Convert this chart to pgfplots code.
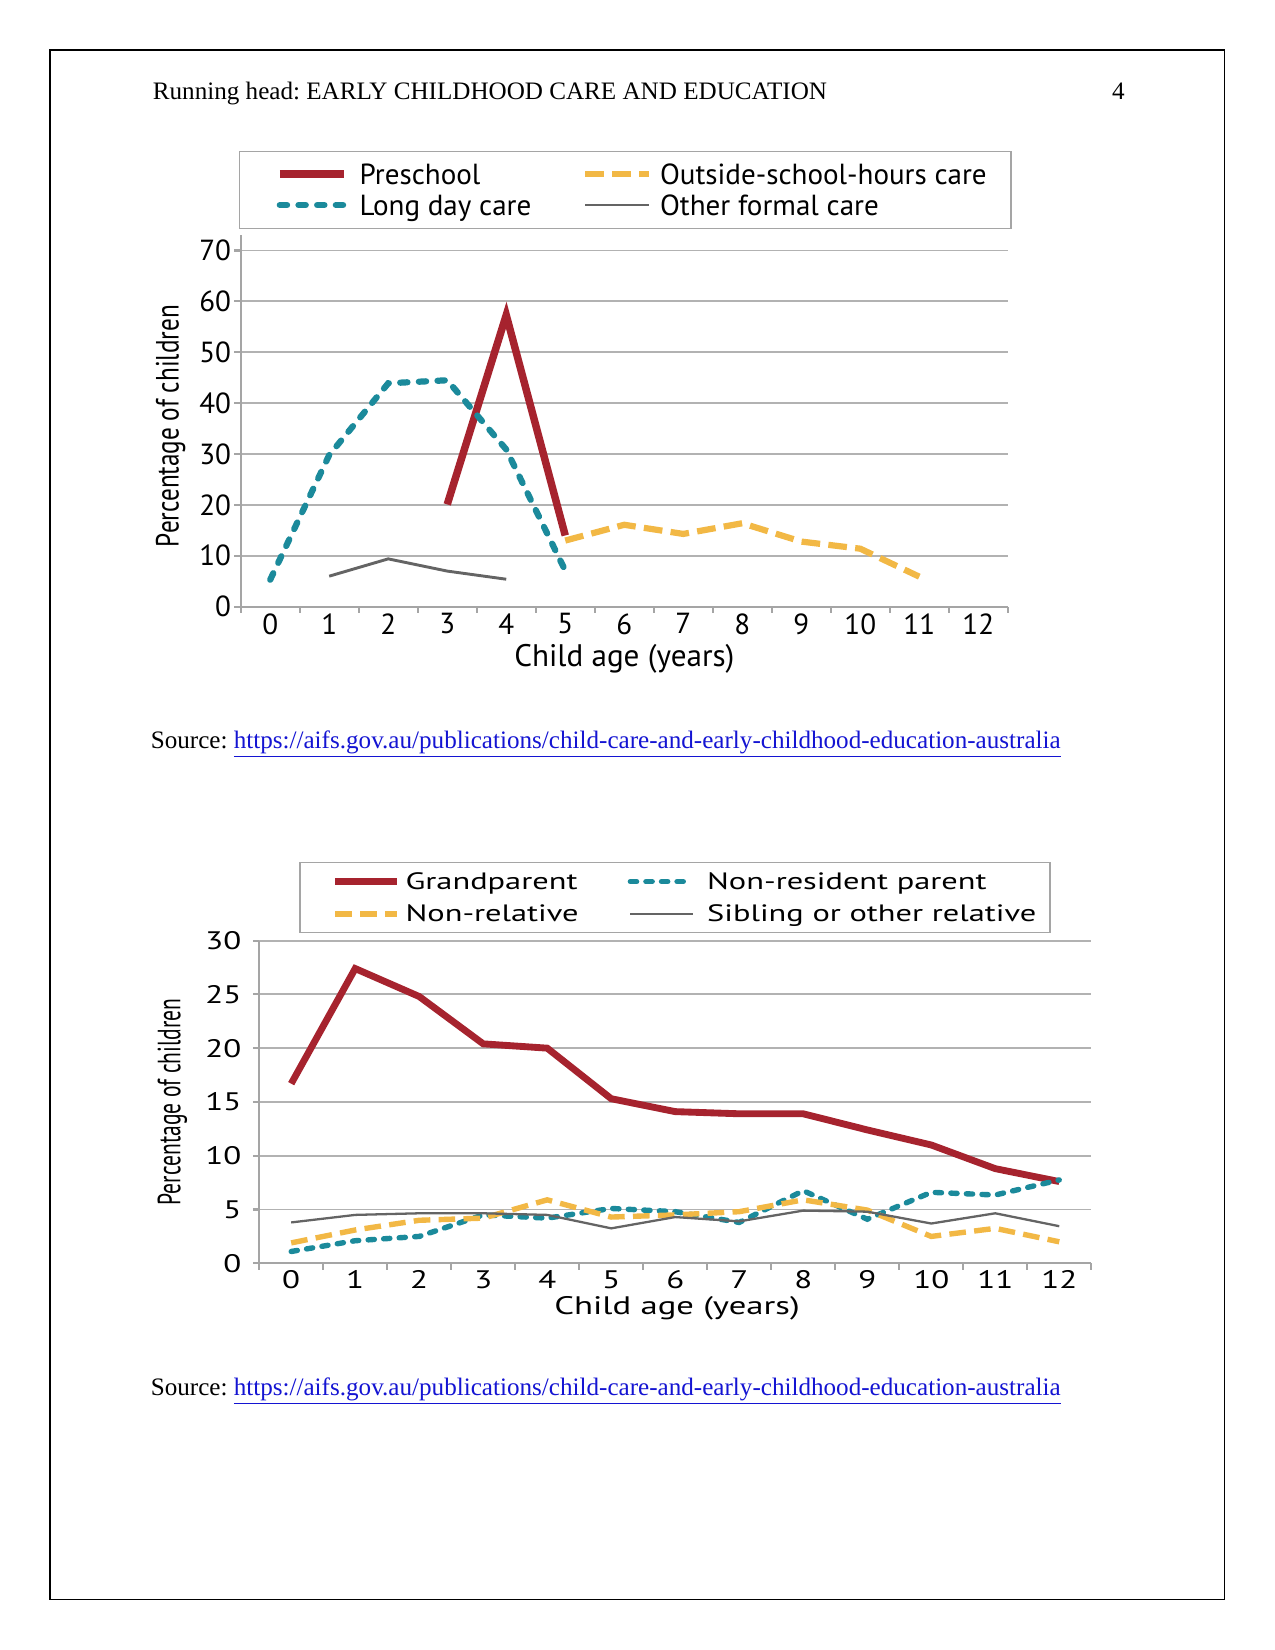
\documentclass[border=0pt]{standalone}
\usepackage{pgfplots}
\pgfplotsset{compat=1.18}
\usepackage{fontspec}
\setmainfont{Liberation Serif}
\newfontfamily\fA[FakeStretch=1.0]{PT Sans}
\newfontfamily\fAy[FakeStretch=0.784]{PT Sans}
\newfontfamily\fB[FakeStretch=1.37]{PT Sans}
\newfontfamily\fBt[FakeStretch=1.3]{PT Sans}
\newfontfamily\fBy[FakeStretch=0.67]{PT Sans}
\definecolor{cred}{RGB}{166,35,46}
\definecolor{cteal}{RGB}{27,138,155}
\definecolor{cyel}{RGB}{242,184,69}
\definecolor{cgray}{RGB}{100,100,100}
\definecolor{cgrid}{RGB}{178,178,178}
\definecolor{caxis}{RGB}{165,165,165}
\definecolor{clink}{RGB}{20,20,210}
\frenchspacing
\begin{document}
\begin{tikzpicture}[x=0.48181pt,y=-0.48181pt]
\useasboundingbox (0,0) rectangle (1275,1650);
\draw[line width=0.75pt] (50,50) rectangle (1224.3,1599.3);
\node[anchor=base west, inner sep=0pt, font=\fontsize{12.1}{14}\selectfont] at (152.5,99.5) {Running head: EARLY CHILDHOOD CARE AND EDUCATION};
\node[anchor=base east, inner sep=0pt, font=\fontsize{12.1}{14}\selectfont] at (1125,99.5) {4};
\node[anchor=base west, inner sep=0pt, font=\fontsize{12.1}{14}\selectfont] at (150.4,748) {Source: \textcolor{clink}{\underline{https://aifs.gov.au/publications/child-care-and-early-childhood-education-australia}}};
\node[anchor=base west, inner sep=0pt, font=\fontsize{12.1}{14}\selectfont] at (150.4,1395) {Source: \textcolor{clink}{\underline{https://aifs.gov.au/publications/child-care-and-early-childhood-education-australia}}};
% legend boxes
\draw[caxis, line width=0.75pt] (239.3,151.7) rectangle (1011,228.3);
\draw[caxis, line width=0.75pt] (300,862.3) rectangle (1049.9,932.7);
\coordinate (A1) at (240.7,606.7);
\coordinate (A2) at (259.2,1263.3);

% ---------- chart 1 ----------
\begin{axis}[
  at={(A1)}, anchor=south west,
  scale only axis, width=369.6pt, height=179.0pt,
  xmin=-0.5, xmax=12.5, ymin=0, ymax=73,
  axis x line*=bottom, axis y line*=left,
  axis line style={-, caxis, line width=1pt},
  xtick={-0.5,0.5,...,12.5}, xticklabels={},
  extra x ticks={0,1,...,12},
  extra x tick style={tick style={draw=none}},
  ytick={0,10,...,70},
  tick align=outside, major tick length=3pt,
  tick style={caxis, line width=1pt},
  ymajorgrids, major grid style={cgrid, line width=0.9pt},
  /pgf/number format/assume math mode=true,
  ticklabel style={font=\fA\fontsize{14}{16}\selectfont, inner sep=0pt},
  xticklabel style={yshift=0pt},
  yticklabel style={xshift=-1.5pt},
  xlabel={Child age (years)},
  xlabel style={font=\fA\fontsize{15}{17}\selectfont, at={(axis description cs:0.5001,-0.1407)}, anchor=center},
  ylabel={Percentage of children},
  ylabel style={font=\fAy\fontsize{15.5}{17}\selectfont, at={(axis description cs:-0.0914,0.4863)}, anchor=center, rotate=0},
  legend columns=2,
  legend cell align=left,
  legend style={draw=none, fill=none, inner sep=0pt, outer sep=0pt, column sep=0pt, row sep=0pt,
    at={(axis description cs:0.0461,1.19806)}, anchor=north west,
    nodes={inner sep=0pt, text height=11pt, text depth=3.94pt, font=\fA\fontsize{14}{16}\selectfont}},
  legend image code/.code={\draw[#1] (0pt,1.5pt) -- (31pt,1.5pt);},
]
\addplot[cred, line width=3.6pt] coordinates {(3,20.1)(4,57.3)(5,14.0)};
\addlegendentry{\makebox[112.8pt][l]{\hspace{5.7pt}Preschool}}
\addplot[cyel, line width=3pt, dash pattern=on 9pt off 4pt] coordinates {(5,13.0)(6,16.1)(7,14.3)(8,16.4)(9,12.8)(10,11.4)(11,5.9)};
\addlegendentry{\hspace{3.6pt}Outside-school-hours care}
\addplot[cteal, line width=3pt, line cap=round, dash pattern=on 3.5pt off 5.5pt] coordinates {(0,5.3)(1,29.8)(2,43.9)(3,44.5)(4,30.9)(5,7.1)};
\addlegendentry{\makebox[112.8pt][l]{\hspace{5.7pt}Long day care}}
\addplot[cgray, line width=1.4pt] coordinates {(1,6.0)(2,9.4)(3,7.0)(4,5.4)};
\addlegendentry{\hspace{3.6pt}Other formal care}
\end{axis}

% ---------- chart 2 ----------
\begin{axis}[
  at={(A2)}, anchor=south west,
  scale only axis, width=400.9pt, height=155.5pt,
  xmin=-0.5, xmax=12.5, ymin=0, ymax=30,
  axis x line*=bottom, axis y line*=left,
  axis line style={-, caxis, line width=1pt},
  xtick={-0.5,0.5,...,12.5}, xticklabels={},
  extra x ticks={0,1,...,12},
  extra x tick style={tick style={draw=none}},
  ytick={0,5,...,30},
  tick align=outside, major tick length=3pt,
  tick style={caxis, line width=1pt},
  ymajorgrids, major grid style={cgrid, line width=0.9pt},
  /pgf/number format/assume math mode=true,
  ticklabel style={font=\fBt\fontsize{12.2}{14}\selectfont, inner sep=0pt},
  xticklabel style={yshift=-0.4pt},
  yticklabel style={xshift=-5.4pt},
  xlabel={Child age (years)},
  xlabel style={font=\fB\fontsize{12.2}{14}\selectfont, at={(axis description cs:0.5022,-0.1385)}, anchor=center},
  ylabel={Percentage of children},
  ylabel style={font=\fBy\fontsize{15.5}{17}\selectfont, at={(axis description cs:-0.1042,0.4997)}, anchor=center, rotate=0},
  legend columns=2,
  legend cell align=left,
  legend style={draw=none, fill=none, inner sep=0pt, outer sep=0pt, column sep=0pt, row sep=0pt,
    at={(axis description cs:0.08714,1.2231)}, anchor=north west,
    nodes={inner sep=0pt, text height=10pt, text depth=5.56pt, font=\fB\fontsize{11.4}{14}\selectfont}},
  legend image code/.code={\draw[#1] (0pt,1.5pt) -- (30pt,1.5pt);},
]
\addplot[cred, line width=3.3pt] coordinates {(0,16.7)(1,27.4)(2,24.8)(3,20.4)(4,20.0)(5,15.3)(6,14.1)(7,13.9)(8,13.9)(9,12.4)(10,11.0)(11,8.8)(12,7.6)};
\addlegendentry{\makebox[109.3pt][l]{\hspace{2.3pt}Grandparent}}
\addplot[cteal, line width=2.6pt, line cap=round, dash pattern=on 3pt off 4.5pt] coordinates {(0,1.1)(1,2.1)(2,2.5)(3,4.5)(4,4.2)(5,5.1)(6,4.8)(7,3.8)(8,6.75)(9,4.1)(10,6.6)(11,6.35)(12,7.75)};
\addlegendentry{\hspace{5.7pt}Non-resident parent}
\addplot[cyel, line width=2.6pt, dash pattern=on 8pt off 4pt] coordinates {(0,1.9)(1,3.1)(2,4.0)(3,4.2)(4,5.9)(5,4.3)(6,4.5)(7,4.8)(8,5.9)(9,4.95)(10,2.5)(11,3.25)(12,2.0)};
\addlegendentry{\makebox[109.3pt][l]{\hspace{2.3pt}Non-relative}}
\addplot[cgray, line width=1.1pt] coordinates {(0,3.8)(1,4.5)(2,4.65)(3,4.65)(4,4.5)(5,3.25)(6,4.3)(7,3.9)(8,4.9)(9,4.8)(10,3.7)(11,4.65)(12,3.45)};
\addlegendentry{\hspace{5.7pt}Sibling or other relative}
\end{axis}
\end{tikzpicture}
\end{document}
